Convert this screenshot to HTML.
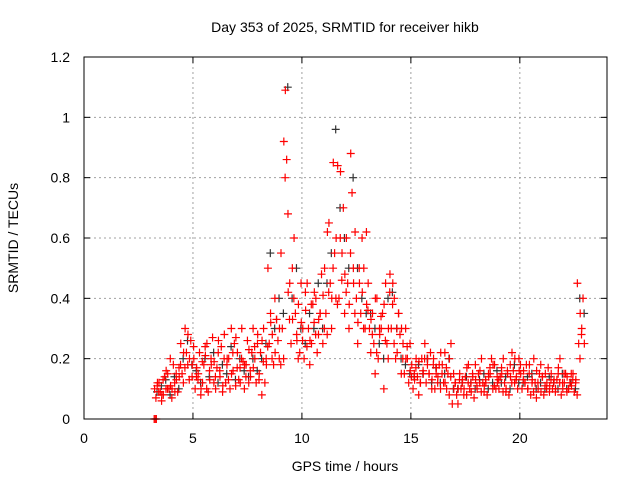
<!DOCTYPE html>
<html><head><meta charset="utf-8"><style>
body{margin:0;background:#fff;}
svg text{font-family:"Liberation Sans",sans-serif;font-size:14px;fill:#000;}
</style></head><body>
<svg id="chart" width="640" height="480" xmlns="http://www.w3.org/2000/svg">
<text x="345" y="32" text-anchor="middle">Day 353 of 2025, SRMTID for receiver hikb</text>
<text transform="translate(18,238) rotate(-90)" text-anchor="middle">SRMTID / TECUs</text>
<text x="345" y="471" text-anchor="middle">GPS time / hours</text>
<g id="grid"></g>
<g id="ticks"></g>
<g id="black"></g>
<g id="red"></g>
<rect x="84" y="57" width="523" height="362" fill="none" stroke="#000" stroke-width="1"/>
</svg>
<script>
const xTicks=[0,5,10,15,20];
const yTicks=[0,0.2,0.4,0.6,0.8,1,1.2];
const yTickLabels=["0","0.2","0.4","0.6","0.8","1","1.2"];
const times=[3.3,3.5,3.7,3.9,4.1,4.3,4.5,4.7,4.9,5.1,5.3,5.5,5.7,5.9,6.1,6.3,6.5,6.7,6.9,7.1,7.3,7.5,7.7,7.9,8.1,8.3,8.5,8.7,8.9,9.1,9.3,9.5,9.7,9.9,10.1,10.3,10.5,10.7,10.9,11.1,11.3,11.5,11.7,11.9,12.1,12.3,12.5,12.7,12.9,13.1,13.3,13.5,13.7,13.9,14.1,14.3,14.5,14.7,14.9,15.1,15.3,15.5,15.7,15.9,16.1,16.3,16.5,16.7,16.9,17.1,17.3,17.5,17.7,17.9,18.1,18.3,18.5,18.7,18.9,19.1,19.3,19.5,19.7,19.9,20.1,20.3,20.5,20.7,20.9,21.1,21.3,21.5,21.7,21.9,22.1,22.3,22.5,22.7,22.9];
const redA=[0.1,0.12,0.08,0.15,0.1,0.13,0.25,0.3,0.2,0.2,0.15,0.12,0.25,0.18,0.1,0.14,0.28,0.2,0.16,0.22,0.3,0.18,0.14,0.2,0.15,0.3,0.5,0.28,0.33,0.55,1.09,0.45,0.6,0.38,0.3,0.45,0.25,0.4,0.35,0.5,0.65,0.85,0.84,0.55,0.6,0.88,0.62,0.45,0.5,0.45,0.35,0.4,0.3,0.45,0.48,0.4,0.35,0.25,0.2,0.18,0.2,0.12,0.25,0.15,0.2,0.14,0.18,0.1,0.25,0.12,0.15,0.1,0.18,0.14,0.1,0.2,0.12,0.15,0.18,0.1,0.2,0.15,0.22,0.14,0.15,0.12,0.18,0.2,0.1,0.14,0.12,0.15,0.1,0.2,0.12,0.1,0.15,0.45,0.3];
const redB=[0.07,0.09,0.14,0.1,0.18,0.09,0.15,0.22,0.26,0.1,0.22,0.18,0.09,0.27,0.17,0.24,0.12,0.1,0.25,0.13,0.19,0.26,0.22,0.12,0.22,0.12,0.25,0.18,0.26,0.3,0.86,0.25,0.35,0.22,0.2,0.3,0.38,0.22,0.48,0.35,0.45,0.55,0.4,0.7,0.45,0.75,0.4,0.35,0.3,0.3,0.25,0.2,0.35,0.25,0.3,0.2,0.28,0.15,0.12,0.1,0.14,0.2,0.12,0.22,0.1,0.18,0.12,0.15,0.05,0.08,0.1,0.14,0.1,0.07,0.15,0.12,0.08,0.2,0.1,0.14,0.12,0.08,0.16,0.1,0.1,0.18,0.08,0.12,0.15,0.08,0.17,0.1,0.13,0.08,0.15,0.12,0.09,0.25,0.4];
const redC=[0.11,0.06,0.1,0.2,0.12,0.17,0.12,0.18,0.14,0.14,0.08,0.24,0.16,0.12,0.22,0.09,0.18,0.3,0.11,0.17,0.1,0.12,0.3,0.25,0.08,0.2,0.35,0.4,0.2,0.2,0.68,0.5,0.28,0.45,0.42,0.18,0.32,0.28,0.25,0.28,0.3,0.4,0.6,0.35,0.3,0.5,0.25,0.6,0.62,0.22,0.15,0.3,0.1,0.2,0.38,0.3,0.15,0.3,0.25,0.15,0.08,0.16,0.18,0.1,0.15,0.1,0.22,0.08,0.15,0.05,0.12,0.08,0.12,0.18,0.12,0.09,0.15,0.1,0.14,0.17,0.09,0.18,0.12,0.2,0.13,0.1,0.12,0.07,0.18,0.11,0.09,0.12,0.15,0.12,0.09,0.15,0.12,0.2,0.25];
const times2=[3.4,3.6,3.8,4.0,4.2,4.4,4.6,4.8,5.0,5.2,5.4,5.6,5.8,6.0,6.2,6.4,6.6,6.8,7.0,7.2,7.4,7.6,7.8,8.0,8.2,8.4,8.6,8.8,9.0,9.2,9.4,9.6,9.8,10.0,10.2,10.4,10.6,10.8,11.0,11.2,11.4,11.6,11.8,12.0,12.2,12.4,12.6,12.8,13.0,13.2,13.4,13.6,13.8,14.0,14.2,14.4,14.6,14.8,15.0,15.2,15.4,15.6,15.8,16.0,16.2,16.4,16.6,16.8,17.0,17.2,17.4,17.6,17.8,18.0,18.2,18.4,18.6,18.8,19.0,19.2,19.4,19.6,19.8,20.0,20.2,20.4,20.6,20.8,21.0,21.2,21.4,21.6,21.8,22.0,22.2,22.4,22.6,22.8];
const redD=[0.12,0.08,0.16,0.11,0.09,0.14,0.22,0.28,0.18,0.17,0.1,0.21,0.13,0.19,0.26,0.11,0.2,0.15,0.27,0.12,0.18,0.23,0.17,0.28,0.26,0.18,0.32,0.22,0.3,0.92,0.42,0.33,0.26,0.32,0.36,0.26,0.42,0.33,0.41,0.62,0.4,0.6,0.82,0.48,0.38,0.45,0.32,0.42,0.38,0.33,0.4,0.28,0.38,0.3,0.45,0.22,0.3,0.2,0.16,0.13,0.19,0.15,0.2,0.13,0.17,0.22,0.12,0.2,0.1,0.1,0.13,0.17,0.09,0.13,0.16,0.11,0.14,0.18,0.12,0.15,0.1,0.14,0.2,0.16,0.16,0.1,0.13,0.16,0.09,0.15,0.11,0.13,0.17,0.1,0.14,0.11,0.13,0.35];
const redE=[0.09,0.13,0.1,0.07,0.15,0.18,0.17,0.13,0.24,0.13,0.19,0.1,0.2,0.14,0.16,0.2,0.13,0.22,0.17,0.2,0.14,0.16,0.24,0.13,0.19,0.24,0.2,0.33,0.18,0.8,0.33,0.4,0.2,0.26,0.24,0.38,0.28,0.35,0.3,0.42,0.5,0.38,0.46,0.42,0.55,0.35,0.5,0.3,0.36,0.28,0.22,0.34,0.26,0.42,0.25,0.35,0.2,0.24,0.14,0.17,0.12,0.2,0.15,0.18,0.12,0.15,0.17,0.14,0.12,0.13,0.08,0.12,0.15,0.11,0.09,0.13,0.17,0.11,0.13,0.09,0.16,0.12,0.13,0.18,0.12,0.15,0.09,0.12,0.14,0.1,0.13,0.09,0.12,0.15,0.1,0.13,0.08,0.28];
const blackA=[0.09,0.11,0.13,0.08,0.14,0.1,0.2,0.26,0.18,0.16,0.12,0.2,0.14,0.22,0.12,0.18,0.15,0.24,0.13,0.2,0.16,0.14,0.2,0.16,0.2,0.25,0.55,0.3,0.4,0.35,1.1,0.4,0.5,0.3,0.25,0.35,0.3,0.45,0.3,0.45,0.55,0.96,0.7,0.6,0.5,0.8,0.5,0.4,0.35,0.35,0.3,0.25,0.2,0.4,0.42,0.3,0.2,0.18,0.15,0.14,0.18,0.15,0.2,0.12,0.17,0.12,0.15,0.2,0.1,0.1,0.12,0.14,0.12,0.1,0.13,0.15,0.1,0.12,0.16,0.12,0.14,0.1,0.18,0.12,0.12,0.14,0.15,0.1,0.12,0.1,0.14,0.12,0.1,0.15,0.1,0.12,0.1,0.4,0.35];
const zeroTimes=[3.22,3.27,3.32];
const zeroVals=[0,0,0];
const NS="http://www.w3.org/2000/svg";
const X0=84,X1=607,Y0=419,Y1=57,XMAX=24,YMAX=1.2;
function xs(t){return X0+(t/XMAX)*(X1-X0);}
function ys(v){return Y0-(v/YMAX)*(Y0-Y1);}
function mk(tag,attrs,parent){const e=document.createElementNS(NS,tag);for(const k in attrs)e.setAttribute(k,attrs[k]);parent.appendChild(e);return e;}
const grid=document.getElementById('grid'),ticks=document.getElementById('ticks');
xTicks.forEach(t=>{const x=xs(t);
 if(t>0){const g=mk('line',{x1:x,x2:x,y1:Y0,y2:Y1,stroke:'#a0a0a0','stroke-dasharray':'2,3'},grid);}
 mk('line',{x1:x,x2:x,y1:Y0,y2:Y0-6,stroke:'#000'},ticks);mk('line',{x1:x,x2:x,y1:Y1,y2:Y1+6,stroke:'#000'},ticks);
 const tx=mk('text',{x:x,y:Y0+24,'text-anchor':'middle'},ticks);tx.textContent=String(t);
 });
yTicks.forEach((v,i)=>{const y=ys(v);
 if(v>0&&v<YMAX){const g=mk('line',{x1:X0,x2:X1,y1:y,y2:y,stroke:'#a0a0a0','stroke-dasharray':'2,3'},grid);}
 mk('line',{x1:X0,x2:X0+6,y1:y,y2:y,stroke:'#000'},ticks);mk('line',{x1:X1,x2:X1-6,y1:y,y2:y,stroke:'#000'},ticks);
 const tx=mk('text',{x:X0-14,y:y+5,'text-anchor':'end'},ticks);tx.textContent=yTickLabels[i];
 });
function plus(g,t,v,col){const x=xs(t),y=ys(v);
 const p=mk('path',{d:`M${x-4},${y}H${x+4}M${x},${y-4}V${y+4}`,stroke:col,'stroke-width':1.2,fill:'none'},g);
 }
const bg=document.getElementById('black'),rg=document.getElementById('red');
times.forEach((t,i)=>{if(blackA[i]!==undefined)plus(bg,t+0.05,blackA[i],'#333');});
[redA,redB,redC].forEach((arr,k)=>times.forEach((t,i)=>{if(arr[i]!==undefined)plus(rg,t-0.06+k*0.06,arr[i],'#f00');}));
[redD,redE].forEach((arr,k)=>times2.forEach((t,i)=>{if(arr[i]!==undefined)plus(rg,t-0.03+k*0.06,arr[i],'#f00');}));
zeroTimes.forEach((t,i)=>plus(rg,t,zeroVals[i],'#f00'));
</script>
</body></html>
